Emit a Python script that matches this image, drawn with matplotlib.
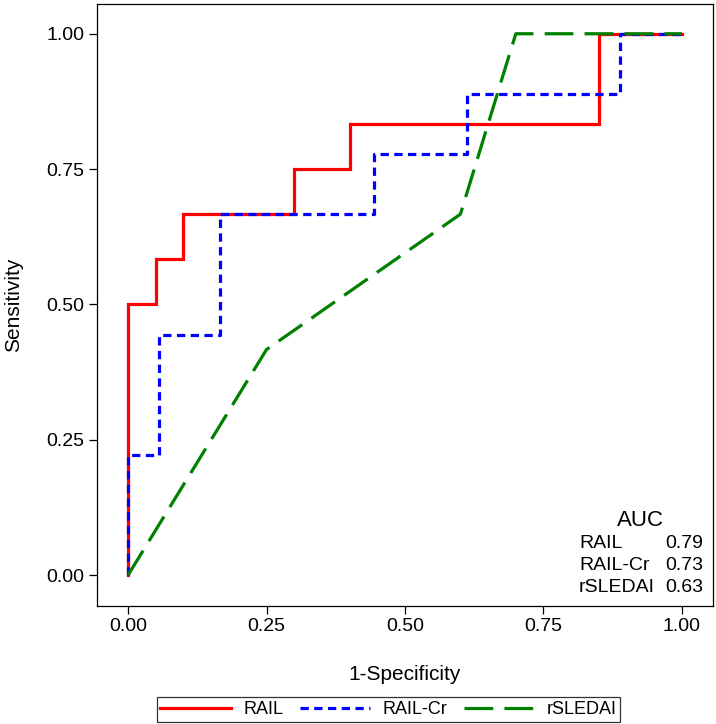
import numpy as np
import matplotlib
matplotlib.use("Agg")
import matplotlib.pyplot as plt

plt.rcParams['font.family'] = ['Liberation Sans', 'DejaVu Sans']

# ROC points (1-specificity, sensitivity)
rail_x = [0, 0, 0.05, 0.05, 0.10, 0.10, 0.30, 0.30, 0.40, 0.40, 0.85, 0.85, 1.0]
rail_y = [0, 0.5, 0.5, 0.5833, 0.5833, 0.6667, 0.6667, 0.75, 0.75, 0.8333, 0.8333, 1.0, 1.0]

railcr_x = [0, 0, 0.0556, 0.0556, 0.1667, 0.1667, 0.4444, 0.4444, 0.6111, 0.6111, 0.8889, 0.8889, 1.0]
railcr_y = [0, 0.2222, 0.2222, 0.4444, 0.4444, 0.6667, 0.6667, 0.7778, 0.7778, 0.8889, 0.8889, 1.0, 1.0]

rsledai_x = [0, 0.25, 0.60, 0.70, 1.0]
rsledai_y = [0, 0.4167, 0.6667, 1.0, 1.0]

auc_names = ['RAIL', 'RAIL-Cr', 'rSLEDAI']
auc_vals = ['0.79', '0.73', '0.63']

ticks = [0, 0.25, 0.5, 0.75, 1.0]
tick_labels = ['0.00', '0.25', '0.50', '0.75', '1.00']

fig = plt.figure(figsize=(7.16, 7.24), dpi=100)
ax = fig.add_axes([0.1355, 0.163, 0.8603, 0.8315])

ax.plot(rail_x, rail_y, color='#ff0000', lw=2.3, label='RAIL', solid_joinstyle='miter')
ax.plot(railcr_x, railcr_y, color='#0000ff', lw=2.3, label='RAIL-Cr', linestyle=(0, (2.6, 1.7)))
ax.plot(rsledai_x, rsledai_y, color='#008000', lw=2.3, label='rSLEDAI', linestyle=(0, (9, 3.5)))

ax.set_xlim(-0.056, 1.056)
ax.set_ylim(-0.057, 1.055)
ax.set_xticks(ticks)
ax.set_xticklabels(tick_labels)
ax.set_yticks(ticks)
ax.set_yticklabels(tick_labels)
ax.tick_params(direction='out', length=6, width=0.9, labelsize=14, pad=3)
for s in ax.spines.values():
    s.set_linewidth(0.9)

fig.text(405/716, 1 - 675/724, '1-Specificity', ha='center', va='center', fontsize=15)
fig.text(14/716, 1 - 305/724, 'Sensitivity', ha='center', va='center', fontsize=15, rotation=90)

# AUC table inside the plot
fig.text(640/716, 1 - 520/724, 'AUC', ha='center', va='center', fontsize=16)
for i, (n, v) in enumerate(zip(auc_names, auc_vals)):
    yy = 1 - (544 + 22 * i) / 724
    fig.text(579/716, yy, n, ha='left', va='center', fontsize=14)
    fig.text(703/716, yy, v, ha='right', va='center', fontsize=14)

leg = fig.legend(loc='center', bbox_to_anchor=(388.5/716, 1 - 709.5/724), ncol=3,
                 frameon=True, fancybox=False, fontsize=13, handlelength=3.9,
                 columnspacing=0.9, handletextpad=0.7, borderpad=0.2)
leg.get_frame().set_edgecolor('black')
leg.get_frame().set_linewidth(0.9)

fig.savefig('out.png', dpi=100)
